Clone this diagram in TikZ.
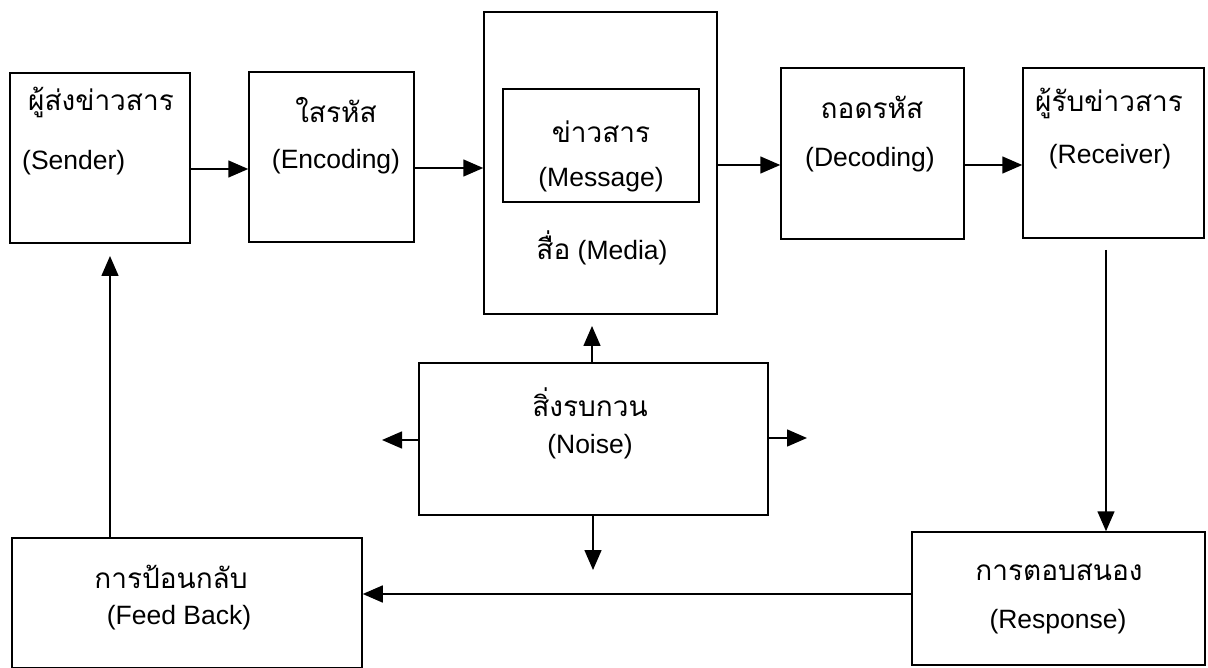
\documentclass[tikz,border=0pt]{standalone}
\usepackage{fontspec}
\setmainfont{Liberation Sans}
\newfontfamily\thai[Script=Thai]{Loma}
\usetikzlibrary{arrows.meta}
\tikzset{
  box/.style={draw, line width=1.5pt, inner sep=0pt},
  txt/.style={inner sep=0pt, font=\fontsize{26.5}{30}\selectfont},
  ttxt/.style={inner sep=0pt, font=\fontsize{28}{32}\selectfont\thai},
  arr/.style={line width=1.5pt, -{Triangle[length=20pt,width=17pt]}}
}
\begin{document}
\begin{tikzpicture}[x=1pt,y=-1pt]
\useasboundingbox (0,0) rectangle (1208,668);
% boxes
\node[box, minimum width=180pt, minimum height=170pt] (sender) at (100,158) {};
\node[box, minimum width=165pt, minimum height=170pt] (enc) at (331.5,157) {};
\node[box, minimum width=233pt, minimum height=302pt] (media) at (600.5,163) {};
\node[box, minimum width=196pt, minimum height=113pt] (msg) at (601,145.5) {};
\node[box, minimum width=183pt, minimum height=171pt] (dec) at (872.5,153.5) {};
\node[box, minimum width=181pt, minimum height=170pt] (recv) at (1113.5,153) {};
\node[box, minimum width=349pt, minimum height=152pt] (noise) at (593.5,439) {};
\node[box, minimum width=350pt, minimum height=130pt] (fb) at (187,603) {};
\node[box, minimum width=293pt, minimum height=133pt] (resp) at (1058.5,598.5) {};
% texts
\node[ttxt, anchor=west] (t1) at (28,102) {ผู้ส่งข่าวสาร};
\node[txt, anchor=west] (e1) at (22,163) {(Sender)};
\node[ttxt] (t2) at (336,110) {ใสรหัส};
\node[txt] (e2) at (336,162) {(Encoding)};
\node[ttxt] (t3) at (601,132) {ข่าวสาร};
\node[txt] (e3) at (601,180) {(Message)};
\node[txt] (e3b) at (602,248) {{\fontsize{28}{32}\selectfont\thai สื่อ} (Media)};
\node[ttxt] (t4) at (872,107) {ถอดรหัส};
\node[txt] (e4) at (870,160) {(Decoding)};
\node[ttxt] (t5) at (1109,103) {ผู้รับข่าวสาร};
\node[txt] (e5) at (1110,157) {(Receiver)};
\node[ttxt] (t6) at (590,402) {สิ่งรบกวน};
\node[txt] (e6) at (590,447) {(Noise)};
\node[ttxt] (t7) at (171,577) {การป้อนกลับ};
\node[txt] (e7) at (179,618) {(Feed Back)};
\node[ttxt] (t8) at (1059,572) {การตอบสนอง};
\node[txt] (e8) at (1058,622) {(Response)};
% connectors
\draw[arr] (sender.east |- 0,169) -- (enc.west |- 0,169);
\draw[arr] (enc.east |- 0,168) -- (media.west |- 0,168);
\draw[arr] (media.east |- 0,165) -- (dec.west |- 0,165);
\draw[arr] (dec.east |- 0,165) -- (recv.west |- 0,165);
\coordinate (r0) at (1106,250);
\draw[arr] (r0) -- (r0 |- resp.north);
\draw[arr] (resp.west |- 0,594) -- (fb.east |- 0,594);
\coordinate (s0) at (110,256);
\draw[arr] (s0 |- fb.north) -- (s0);
\coordinate (n0) at (592,326);
\draw[arr] (n0 |- noise.north) -- (n0);
\coordinate (n1) at (382,440);
\draw[arr] (noise.west |- n1) -- (n1);
\coordinate (n2) at (807,438);
\draw[arr] (noise.east |- n2) -- (n2);
\coordinate (n3) at (593,570);
\draw[arr] (n3 |- noise.south) -- (n3);
\end{tikzpicture}
\end{document}
